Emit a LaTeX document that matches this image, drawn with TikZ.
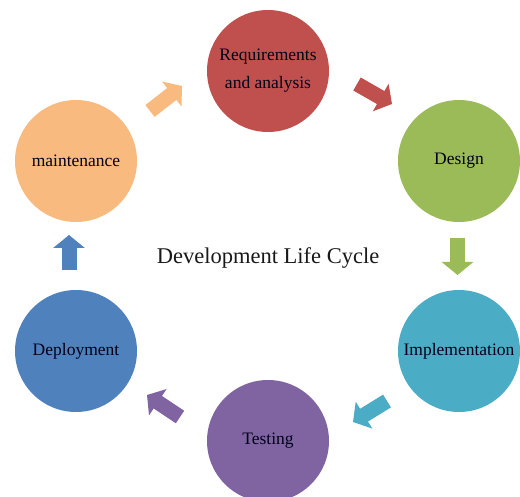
\documentclass[tikz,border=0pt]{standalone}
\usepackage{fontspec}
\setmainfont{Liberation Serif}
\usetikzlibrary{arrows.meta,positioning}

\definecolor{reqred}{HTML}{C0504D}
\definecolor{desgreen}{HTML}{9BBB59}
\definecolor{impteal}{HTML}{4BACC6}
\definecolor{tstpurple}{HTML}{8064A2}
\definecolor{depblue}{HTML}{4F81BD}
\definecolor{mntorange}{HTML}{F9BA80}

\begin{document}
\begin{tikzpicture}[x=1pt, y=-1pt, on grid,
        phase/.style={circle, minimum size=122pt, inner sep=0pt, align=center,
            text=black!90!blue, font=\fontsize{17.5}{28}\selectfont},
        flow/.style={line width=15pt, -{Triangle[width=31pt, length=13pt]}}]
    \useasboundingbox (0,0) rectangle (520,497);
    \node[phase, fill=reqred] (req) at (268,71) {Requirements\\and analysis};
    \node[phase, fill=desgreen, below right=90pt and 191pt of req] (des) {Design};
    \node[phase, fill=impteal, below=190pt of des] (imp) {Implementation};
    \node[phase, fill=tstpurple, below left=90pt and 191pt of imp] (tst) {Testing};
    \node[phase, fill=depblue, above left=90pt and 192pt of tst] (dep) {Deployment};
    \node[phase, fill=mntorange, above=190pt of dep] (mnt) {maintenance};
    \node[font=\fontsize{22.5}{26}\selectfont, text=black!90] (title) at (268,258) {Development Life Cycle};
    % arrow ends
    \coordinate (r1) at (357,84);   \coordinate (r2) at (392,104);
    \coordinate (d1) at (457.5,238); \coordinate (d2) at (457.5,275);
    \coordinate (i1) at (387,401);  \coordinate (i2) at (353,422);
    \coordinate (t1) at (180,417);  \coordinate (t2) at (147,395);
    \coordinate (p1) at (69,270);   \coordinate (p2) at (69,235);
    \coordinate (m1) at (150,111);  \coordinate (m2) at (182,86);
    \draw[flow, reqred] (r1) -- (r2);
    \draw[flow, desgreen] (d1) -- (d2);
    \draw[flow, impteal] (i1) -- (i2);
    \draw[flow, tstpurple] (t1) -- (t2);
    \draw[flow, depblue] (p1) -- (p2);
    \draw[flow, mntorange] (m1) -- (m2);
\end{tikzpicture}
\end{document}
